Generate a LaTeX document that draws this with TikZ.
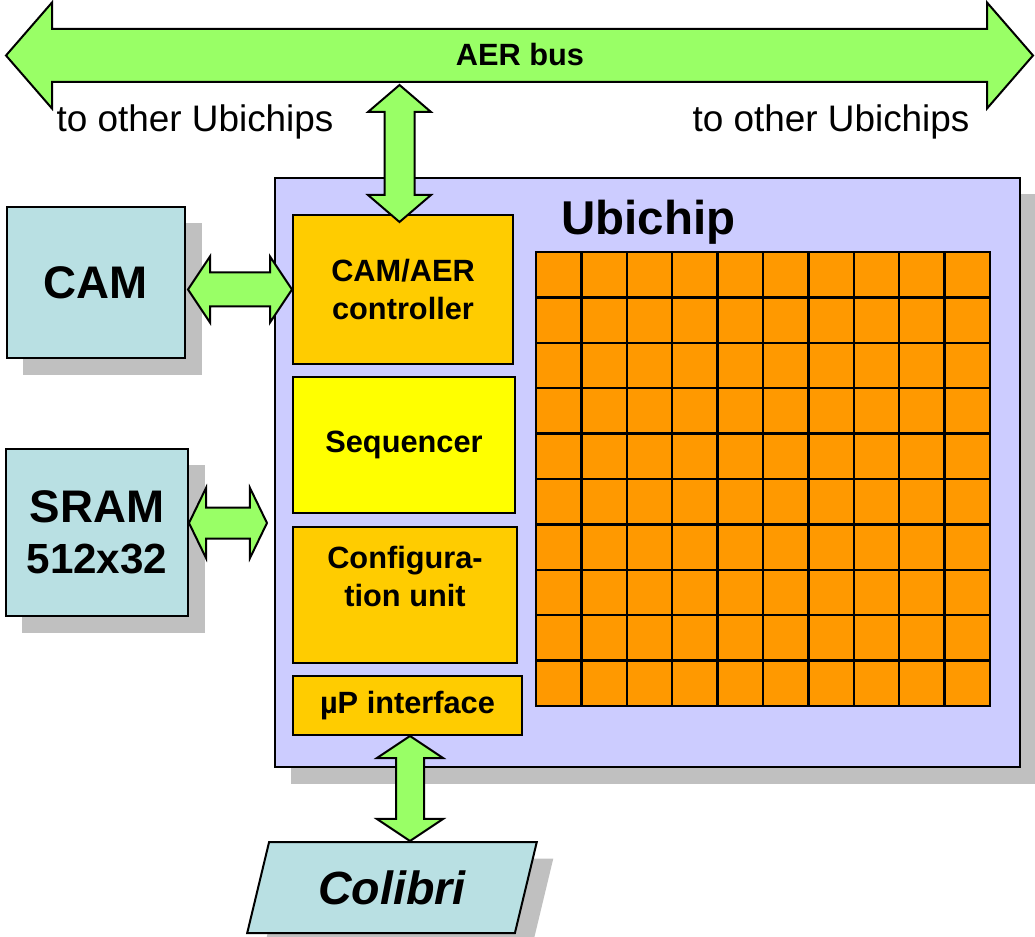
\documentclass[tikz,border=0pt]{standalone}
\usepackage{fontspec}
\setmainfont{Liberation Sans}
\usetikzlibrary{shapes, calc, positioning, shadows}

\definecolor{busgreen}{HTML}{99FF66}
\definecolor{chiplav}{HTML}{CCCCFF}
\definecolor{memblue}{HTML}{B9E0E3}
\definecolor{ctrlgold}{HTML}{FFCC00}
\definecolor{seqyellow}{HTML}{FFFF00}
\definecolor{cellorange}{HTML}{FF9900}
\definecolor{shadowgray}{HTML}{C0C0C0}

\tikzset{
  box/.style={draw, line width=0.4mm, inner sep=0pt, align=center,
    drop shadow={shadow xshift=3.3mm, shadow yshift=-3.3mm, fill=shadowgray, opacity=1}},
  unit/.style={draw, line width=0.4mm, inner sep=0pt, align=center,
    font=\fontsize{17.5}{21.6}\bfseries},
  cell/.style={draw, fill=cellorange, line width=0.45mm},
  fat/.style={draw, fill=busgreen, line width=0.4mm, line join=miter}
}

% block arrow with two heads: tip, tip, half shaft, half head, head length
\newcommand{\fatarrowh}[5]{%
  \draw[fat] (#1) -- ++(#5,-#4) -- ++(0,#4-#3) -- ($(#2)+(-#5,-#3)$) -- ++(0,#3-#4)
    -- (#2) -- ++(-#5,#4) -- ++(0,#3-#4) -- ($(#1)+(#5,#3)$) -- ++(0,#4-#3) -- cycle;}
\newcommand{\fatarrowv}[5]{%
  \draw[fat] (#1) -- ++(#4,#5) -- ++(#3-#4,0) -- ($(#2)+(#3,-#5)$) -- ++(#4-#3,0)
    -- (#2) -- ++(-#4,-#5) -- ++(#4-#3,0) -- ($(#1)+(-#3,#5)$) -- ++(#3-#4,0) -- cycle;}

\begin{document}
\begin{tikzpicture}[x=0.2mm, y=-0.2mm, >=latex]
    \useasboundingbox (0,0) rectangle (1035,937);

    % AER bus
    \coordinate (busW) at (6,55.5);
    \coordinate (busE) at (1033,55.5);
    \fatarrowh{busW}{busE}{26.5}{53}{46}
    \node[anchor=base, font=\fontsize{17.5}{21}\bfseries] (aerbus) at (520,66) {AER bus};
    \node[anchor=base, font=\fontsize{21}{25}\selectfont] (otherL) at (195,132) {to other Ubichips};
    \node[anchor=base, font=\fontsize{21}{25}\selectfont] (otherR) at (831,132) {to other Ubichips};

    % the chip
    \node[box, fill=chiplav, minimum width=149mm, minimum height=117.8mm] (ubichip) at (647.5,472.5) {};
    \node[anchor=base, font=\fontsize{27}{32}\bfseries] (ubilabel) at (648.5,235) {Ubichip};
    \foreach \i in {0,...,9}
      \foreach \j in {0,...,9}
        \draw[cell] (536+45.4*\i, 252+45.4*\j) rectangle ++(45.4,45.4);

    \node[unit, fill=ctrlgold, minimum width=44mm, minimum height=29.8mm] (camaer) at (403,289.5) {CAM/AER\\controller};
    \node[unit, fill=seqyellow, minimum width=44.4mm, minimum height=27.2mm] (seq) at (404,445) {\raisebox{-0.6mm}{Sequencer}};
    \node[unit, fill=ctrlgold, minimum width=44.8mm, minimum height=27.2mm] (config) at (405,595) {Configura-\\tion unit\\\mbox{}};
    \node[unit, fill=ctrlgold, minimum width=45.8mm, minimum height=11.8mm] (up) at (407.5,705.5) {µP interface};

    % outside the chip
    \node[box, fill=memblue, minimum width=35.6mm, minimum height=30.2mm, font=\fontsize{26}{30}\bfseries] (cam) at (96,282.5) {CAM};
    \node[box, fill=memblue, minimum width=36.4mm, minimum height=33.4mm, font=\fontsize{26}{29}\bfseries] (sram) at (97,532.5) {\raisebox{-0.6mm}{SRAM}\\{\fontsize{24}{29}\selectfont\raisebox{-0.6mm}{512x32}}};
    \node[box, trapezium, trapezium stretches=true, trapezium left angle=69, trapezium right angle=111, fill=memblue,
      minimum width=58mm, minimum height=18.2mm, font=\fontsize{26.5}{30}\bfseries\itshape] (colibri) at (392,887.5) {Colibri};

    % links
    \coordinate (ctrlB) at ($(camaer.north)+(-3.5,8)$);
    \coordinate (ctrlT) at ($(ctrlB)+(0,-137)$);
    \fatarrowv{ctrlT}{ctrlB}{15}{31.5}{27}

    \coordinate (camR) at (camaer.west);
    \coordinate (camL) at ($(cam.east |- camR)+(2,0)$);
    \fatarrowh{camL}{camR}{17}{33}{22}

    \coordinate (sramL) at ($(sram.east)+(0,-9.5)$);
    \coordinate (sramR) at ($(ubichip.west |- sramL)+(-7,0)$);
    \fatarrowh{sramL}{sramR}{15.5}{35}{17}

    \coordinate (upT) at ($(up.south)+(2.5,0)$);
    \coordinate (upB) at (upT |- colibri.north);
    \fatarrowv{upT}{upB}{14}{33}{22}
\end{tikzpicture}
\end{document}
